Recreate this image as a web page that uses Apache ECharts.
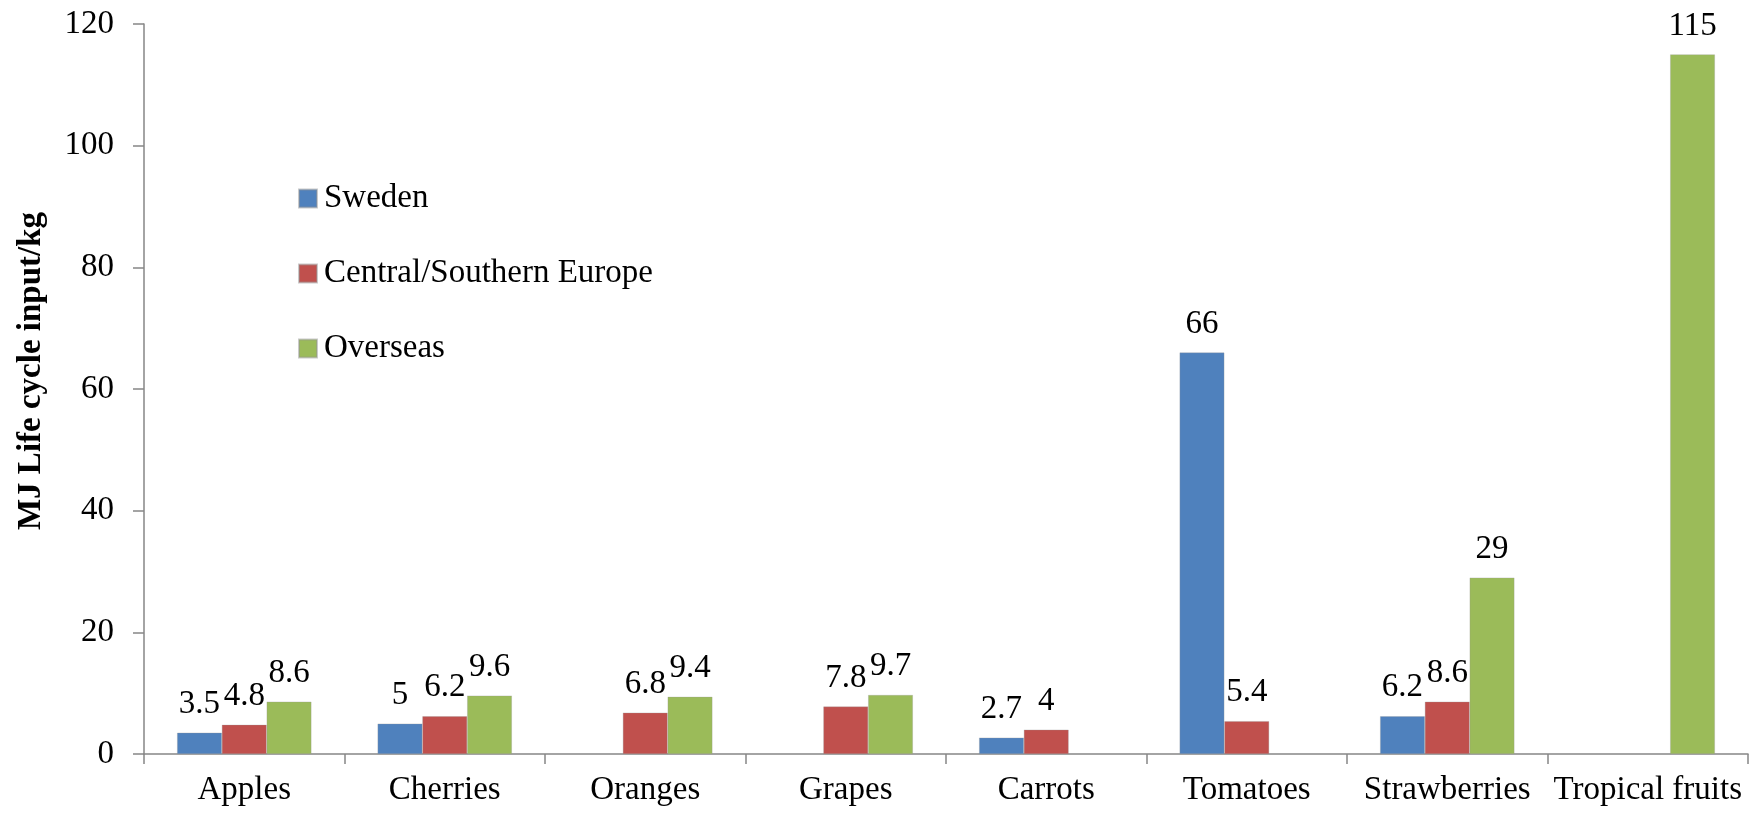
<!DOCTYPE html>
<html>
<head>
<meta charset="utf-8">
<script src="https://cdn.jsdelivr.net/npm/echarts@6/dist/echarts.min.js"></script>
<style>
html,body{margin:0;padding:0;background:#fff;}
#chart{width:1763px;height:813px;}
</style>
</head>
<body>
<div id="chart"></div>
<script>
var categories = ['Apples','Cherries','Oranges','Grapes','Carrots','Tomatoes','Strawberries','Tropical fruits'];
var sweden = [3.5, 5, null, null, 2.7, 66, 6.2, null];
var centralSouthernEurope = [4.8, 6.2, 6.8, 7.8, 4, 5.4, 8.6, null];
var overseas = [8.6, 9.6, 9.4, 9.7, null, null, 29, 115];
var yTicks = {min: 0, max: 120, interval: 20};
var seriesNames = ['Sweden', 'Central/Southern Europe', 'Overseas'];

var FONT = '"Liberation Serif", "Times New Roman", serif';
var FS = 33;
var chart = echarts.init(document.getElementById('chart'));
function mk(name, data, color) {
  return {
    name: name, type: 'bar', data: data,
    barGap: '0%', barCategoryGap: '33%',
    itemStyle: {color: color, borderColor: 'rgba(150,150,150,0.5)', borderWidth: 0.6},
    label: {show: true, position: 'top', distance: 12, color: '#000', fontFamily: FONT, fontSize: FS},
    animation: false
  };
}
chart.setOption({
  animation: false,
  backgroundColor: '#fff',
  grid: {left: 144, right: 15, top: 24, bottom: 59, containLabel: false},
  legend: {
    orient: 'vertical', left: 293, top: 177,
    itemWidth: 18, itemHeight: 18, itemGap: 42,
    icon: 'rect',
    textStyle: {fontFamily: FONT, fontSize: FS, color: '#000', lineHeight: 32, padding: [0,0,0,2]},
    data: seriesNames
  },
  xAxis: {
    type: 'category', data: categories,
    axisLine: {lineStyle: {color: '#868686', width: 1.5}},
    axisTick: {show: true, length: 10, lineStyle: {color: '#868686', width: 1.5}},
    axisLabel: {color: '#000', fontFamily: FONT, fontSize: FS, margin: 20, interval: 0}
  },
  yAxis: {
    type: 'value', min: yTicks.min, max: yTicks.max, interval: yTicks.interval,
    name: 'MJ Life cycle input/kg', nameLocation: 'middle', nameGap: 96,
    nameTextStyle: {fontFamily: FONT, fontSize: FS, fontWeight: 'bold', color: '#000', padding: [0, 0, 0, 36]},
    axisLine: {show: true, lineStyle: {color: '#868686', width: 1.5}},
    axisTick: {show: true, length: 11, lineStyle: {color: '#868686', width: 1.5}},
    splitLine: {show: false},
    axisLabel: {color: '#000', fontFamily: FONT, fontSize: FS, margin: 30}
  },
  series: [
    mk(seriesNames[0], sweden, '#4F81BD'),
    mk(seriesNames[1], centralSouthernEurope, '#C0504D'),
    mk(seriesNames[2], overseas, '#9BBB59')
  ]
});
</script>
</body>
</html>
